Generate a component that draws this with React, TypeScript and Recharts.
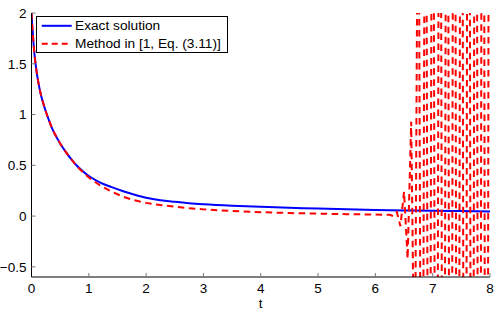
import React from 'react';
import { LineChart, Line, XAxis, YAxis, Legend } from 'recharts';

const W = 498;
const H = 313;
const FONT = '"Liberation Sans", Arial, Helvetica, sans-serif';

// tick labels
const xTicks = [0, 1, 2, 3, 4, 5, 6, 7, 8];
const yTicks = [-0.5, 0, 0.5, 1, 1.5, 2];

// exact solution
const exactT = [0, 0.01, 0.02, 0.03, 0.04, 0.06, 0.08, 0.1, 0.125, 0.15, 0.175, 0.2, 0.25, 0.3, 0.35, 0.4, 0.45, 0.5, 0.6, 0.7, 0.8, 0.9, 1, 1.2, 1.4, 1.6, 1.8, 2, 2.25, 2.5, 2.75, 3, 3.5, 4, 4.5, 5, 5.5, 6, 6.5, 7, 7.5, 8];
const exactY = [2, 1.9, 1.82, 1.74, 1.67, 1.55, 1.46, 1.38, 1.3, 1.23, 1.17, 1.12, 1.03, 0.95, 0.875, 0.815, 0.765, 0.715, 0.63, 0.555, 0.49, 0.44, 0.395, 0.33, 0.285, 0.245, 0.21, 0.18, 0.155, 0.14, 0.127, 0.117, 0.102, 0.091, 0.082, 0.074, 0.067, 0.061, 0.056, 0.052, 0.049, 0.046];

// method in [1, Eq. (3.11)] - blows up after t ~ 6.3
const methodT = [0, 0.01, 0.02, 0.03, 0.04, 0.06, 0.08, 0.1, 0.125, 0.15, 0.175, 0.2, 0.25, 0.3, 0.35, 0.4, 0.45, 0.5, 0.6, 0.7, 0.8, 0.9, 1, 1.2, 1.4, 1.6, 1.8, 2, 2.25, 2.5, 2.75, 3, 3.5, 4, 4.5, 5, 5.5, 6, 6.25,
  6.3125, 6.375, 6.4375, 6.5, 6.5625, 6.625, 6.6875, 6.75, 6.8125, 6.875, 6.9375, 7, 7.0625, 7.125, 7.1875, 7.25, 7.3125, 7.375, 7.4375, 7.5, 7.5625, 7.625, 7.6875, 7.75, 7.8125, 7.875, 7.9375, 8];
const methodY = [2, 1.9, 1.82, 1.74, 1.67, 1.55, 1.46, 1.38, 1.3, 1.23, 1.17, 1.12, 1.03, 0.95, 0.875, 0.815, 0.765, 0.715, 0.63, 0.555, 0.485, 0.43, 0.38, 0.3, 0.24, 0.19, 0.155, 0.13, 0.108, 0.092, 0.078, 0.066, 0.05, 0.038, 0.03, 0.024, 0.019, 0.015, 0.012,
  0.0, 0.04, -0.1, 0.24, -0.42, 0.93, -2.0, 4.4, -5.5, 6, -6.5, 7, -7.5, 8, -8, 8.5, -8.5, 9, -9, 9.5, -9.5, 10, -10, 10.5, -10.5, 11, -11, 11.5];

const exactData = exactT.map((t, i) => ({ t, y: exactY[i] }));
const methodData = methodT.map((t, i) => ({ t, y: methodY[i] }));

const legendItems = [
  { label: 'Exact solution', color: '#0000ff', dash: undefined },
  { label: 'Method in [1, Eq. (3.11)]', color: '#ff0000', dash: '6 4' },
];

const fmt = (v: number) => (v < 0 ? '\u2212' + String(-v) : String(v));

const LegendBox = () => (
  <div
    style={{
      width: 192,
      height: 37,
      boxSizing: 'border-box',
      border: '1px solid #000',
      background: '#fff',
      position: 'relative',
      fontFamily: FONT,
      fontSize: 13.7,
      color: '#000',
    }}
  >
    {legendItems.map((item, i) => (
      <div
        key={item.label}
        style={{ position: 'absolute', left: 0, top: i * 17.6, height: 17.6, display: 'flex', alignItems: 'center' }}
      >
        <svg width={38} height={17.6} style={{ display: 'block' }}>
          <line x1={4.7} x2={34.7} y1={8.8} y2={8.8} stroke={item.color} strokeWidth={2} strokeDasharray={item.dash} />
        </svg>
        <span style={{ lineHeight: '17.6px', whiteSpace: 'nowrap' }}>{item.label}</span>
      </div>
    ))}
  </div>
);

const App = () => {
  return (
    <div style={{ position: 'absolute', left: 0, top: 0, width: W, height: H, background: '#fff' }}>
      <LineChart width={W} height={H} margin={{ top: 13, right: 8, left: 0, bottom: 0 }} style={{ fontFamily: FONT }}>
        <XAxis
          dataKey="t"
          type="number"
          domain={[0, 8]}
          ticks={xTicks}
          allowDataOverflow
          height={36}
          tickSize={-4}
          tickMargin={10}
          tick={{ fill: '#000', fontSize: 13.5 }}
          tickLine={{ stroke: '#777' }}
          axisLine={{ stroke: '#000' }}
          label={{ value: 't', position: 'insideBottom', offset: 5, fill: '#000', fontSize: 13.5 }}
        />
        <XAxis
          xAxisId="top"
          orientation="top"
          type="number"
          domain={[0, 8]}
          ticks={xTicks}
          allowDataOverflow
          height={0}
          tickSize={-4}
          tick={false}
          tickLine={{ stroke: '#777' }}
          axisLine={{ stroke: '#333' }}
        />
        <YAxis
          type="number"
          domain={[-0.6, 2]}
          ticks={yTicks}
          allowDataOverflow
          width={31.5}
          tickSize={-4}
          tickMargin={9}
          tickFormatter={fmt}
          tick={{ fill: '#000', fontSize: 13.5 }}
          tickLine={{ stroke: '#777' }}
          axisLine={{ stroke: '#000' }}
        />
        <YAxis
          yAxisId="right"
          orientation="right"
          type="number"
          domain={[-0.6, 2]}
          ticks={yTicks}
          allowDataOverflow
          width={0}
          tickSize={-4}
          tick={false}
          tickLine={{ stroke: '#777' }}
          axisLine={{ stroke: '#555' }}
        />
        <Line
          data={exactData}
          dataKey="y"
          type="monotone"
          stroke="#0000ff"
          strokeWidth={2}
          dot={false}
          activeDot={false}
          isAnimationActive={false}
        />
        <Line
          data={methodData}
          dataKey="y"
          type="linear"
          stroke="#ff0000"
          strokeWidth={2}
          strokeDasharray="6.5 4.5"
          dot={false}
          activeDot={false}
          isAnimationActive={false}
        />
        <Legend
          layout="horizontal"
          verticalAlign="middle"
          align="center"
          content={() => <LegendBox />}
          wrapperStyle={{ left: 36, top: 16, width: 192, height: 37 }}
        />
      </LineChart>
    </div>
  );
};

export default App;
